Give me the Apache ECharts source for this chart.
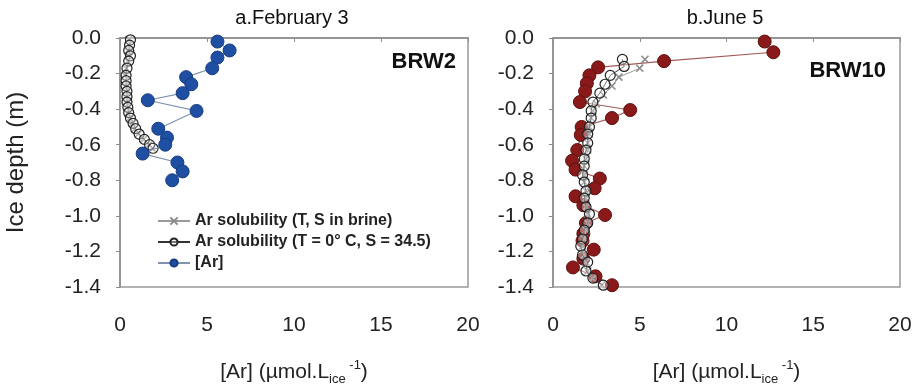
<!DOCTYPE html>
<html>
<head>
<meta charset="utf-8">
<script src="https://cdn.jsdelivr.net/npm/echarts@6/dist/echarts.min.js"></script>
<style>
html,body{margin:0;padding:0;background:#fff;}
#c{width:915px;height:392px;}
</style>
</head>
<body>
<div id="c"></div>
<script>
// ---------- data ----------
var xTicks = [0, 5, 10, 15, 20];
var yTicks = [0.0, -0.2, -0.4, -0.6, -0.8, -1.0, -1.2, -1.4];

// Panel a (BRW2, February 3)
var aArX = [5.6, 6.3, 5.6, 5.3, 3.8, 4.1, 3.6, 1.6, 4.4, 2.2, 2.7, 2.6, 1.3, 3.3, 3.6, 3.0];
var aArY = [-0.02, -0.07, -0.11, -0.17, -0.22, -0.26, -0.31, -0.35, -0.41, -0.51, -0.56, -0.60, -0.65, -0.70, -0.75, -0.80];
var aSol0X = [0.6, 0.55, 0.5, 0.6, 0.5, 0.4, 0.35, 0.35, 0.35, 0.4, 0.4, 0.4, 0.45, 0.5, 0.6, 0.75, 0.9, 1.1, 1.4, 1.7, 1.9];
var aSol0Y = [-0.01, -0.04, -0.07, -0.10, -0.13, -0.17, -0.21, -0.24, -0.27, -0.30, -0.33, -0.36, -0.39, -0.42, -0.45, -0.48, -0.51, -0.54, -0.57, -0.60, -0.62];
var aSolBX = [0.5, 0.5, 0.45, 0.5, 0.45, 0.35, 0.3, 0.3, 0.3, 0.35, 0.35, 0.35, 0.4, 0.45, 0.55, 0.7, 0.85, 1.05, 1.35, 1.65, 1.85];
var aSolBY = [-0.01, -0.04, -0.07, -0.10, -0.13, -0.17, -0.21, -0.24, -0.27, -0.30, -0.33, -0.36, -0.39, -0.42, -0.45, -0.48, -0.51, -0.54, -0.57, -0.60, -0.62];

// Panel b (BRW10, June 5)
var bArX = [12.2, 12.7, 6.4, 2.6, 2.1, 1.95, 1.85, 1.55, 4.45, 3.4, 1.65, 1.6, 1.4, 1.1, 1.3, 2.7, 2.4, 1.3, 1.75, 3.0, 1.9, 1.75, 1.7, 2.35, 1.75, 1.15, 2.45, 3.4];
var bArY = [-0.02, -0.08, -0.13, -0.165, -0.21, -0.255, -0.30, -0.36, -0.405, -0.45, -0.50, -0.545, -0.63, -0.69, -0.74, -0.79, -0.845, -0.89, -0.94, -0.995, -1.04, -1.10, -1.14, -1.19, -1.24, -1.29, -1.34, -1.39];
var bSol0X = [4.0, 4.1, 3.3, 3.0, 2.7, 2.3, 2.2, 2.2, 2.1, 2.0, 2.0, 1.9, 1.8, 1.8, 1.7, 1.8, 1.9, 1.8, 1.9, 2.1, 2.0, 1.8, 1.7, 1.6, 1.7, 2.0, 1.9, 2.3, 2.9];
var bSol0Y = [-0.12, -0.16, -0.21, -0.26, -0.31, -0.36, -0.41, -0.45, -0.50, -0.54, -0.59, -0.63, -0.68, -0.72, -0.77, -0.81, -0.86, -0.90, -0.95, -0.99, -1.04, -1.08, -1.13, -1.17, -1.22, -1.26, -1.31, -1.35, -1.39];
var bSolBX = [5.3, 5.0, 3.8, 3.4, 2.9, 2.5, 2.3, 2.2, 2.1, 2.1, 2.0, 2.0, 1.9, 1.8, 1.8, 1.8, 1.9, 1.9, 1.9, 2.0, 2.0, 1.9, 1.8, 1.7, 1.8, 1.9, 2.0, 2.3, 2.8];
var bSolBY = [-0.12, -0.17, -0.22, -0.27, -0.32, -0.37, -0.41, -0.45, -0.50, -0.54, -0.59, -0.63, -0.68, -0.72, -0.77, -0.81, -0.86, -0.90, -0.95, -0.99, -1.04, -1.08, -1.13, -1.17, -1.22, -1.26, -1.31, -1.35, -1.39];

var seriesNames = ['Ar solubility (T, S in brine)', 'Ar solubility (T = 0\u00b0 C, S = 34.5)', '[Ar]'];
var panelTitles = ['a.February 3', 'b.June 5'];
var panelTags = ['BRW2', 'BRW10'];
var yAxisName = 'Ice depth (m)';

// ---------- build ----------
function pairs(xs, ys) { return xs.map(function (x, i) { return [x, ys[i]]; }); }
var FONT = '"Liberation Sans", Arial, sans-serif';
var crossPath = 'path://M0,0L10,10M10,0L0,10';

function xAxisCfg(gi) {
  return {
    type: 'value', gridIndex: gi, min: xTicks[0], max: xTicks[xTicks.length - 1], interval: xTicks[1] - xTicks[0],
    splitLine: { show: false },
    axisLine: { lineStyle: { color: '#8c8c8c', width: 1.5 } },
    axisTick: { inside: false, length: 4, lineStyle: { color: '#8c8c8c' } },
    axisLabel: { fontFamily: FONT, fontSize: 21, color: '#222', margin: 28 },
    name: '[Ar] (\u00b5mol.L{sub|ice}{sup| -1})',
    nameLocation: 'middle', nameGap: 72,
    nameTextStyle: {
      fontFamily: FONT, fontSize: 21, color: '#222',
      rich: {
        sub: { fontFamily: FONT, fontSize: 13, color: '#222', padding: [14, 0, 0, 0] },
        sup: { fontFamily: FONT, fontSize: 13, color: '#222', padding: [0, 0, 14, 0] }
      }
    }
  };
}
function yAxisCfg(gi, withName) {
  var c = {
    type: 'value', gridIndex: gi, min: yTicks[yTicks.length - 1], max: yTicks[0], interval: 0.2,
    splitLine: { show: false },
    axisLine: { lineStyle: { color: '#8c8c8c', width: 1.5 } },
    axisTick: { inside: false, length: 4, lineStyle: { color: '#8c8c8c' } },
    axisLabel: { fontFamily: FONT, fontSize: 21, color: '#222', margin: 19,
      formatter: function (v) { return v.toFixed(1); } }
  };
  if (withName) {
    c.name = yAxisName; c.nameLocation = 'middle'; c.nameGap = 92;
    c.nameTextStyle = { fontFamily: FONT, fontSize: 24, color: '#222' };
  }
  return c;
}
function crossSeries(name, gi, data) {
  return {
    name: name, type: 'line', xAxisIndex: gi, yAxisIndex: gi, data: data,
    symbol: crossPath, symbolSize: 7, z: 3,
    lineStyle: { color: '#9a9a9a', width: 1 },
    itemStyle: { color: '#8a8a8a', borderColor: '#8a8a8a', borderWidth: 1.5 }
  };
}
function circleSeries(name, gi, data) {
  return {
    name: name, type: 'line', xAxisIndex: gi, yAxisIndex: gi, data: data,
    symbol: 'circle', symbolSize: 10, z: 4,
    lineStyle: { color: '#333', width: 1 },
    itemStyle: { color: 'rgba(255,255,255,0.35)', borderColor: '#222', borderWidth: 1.2 }
  };
}
function arSeries(name, gi, data, fill, border, line, z) {
  return {
    name: name, type: 'line', xAxisIndex: gi, yAxisIndex: gi, data: data,
    symbol: 'circle', symbolSize: 13, z: z,
    lineStyle: { color: line, width: 1.2 },
    itemStyle: { color: fill, borderColor: border, borderWidth: 1 }
  };
}

var option = {
  animation: false,
  backgroundColor: '#fff',
  grid: [
    { left: 120, top: 38, width: 348, height: 249, show: true, borderColor: '#999', borderWidth: 1.5, backgroundColor: 'transparent' },
    { left: 553, top: 38, width: 347, height: 249, show: true, borderColor: '#999', borderWidth: 1.5, backgroundColor: 'transparent' }
  ],
  xAxis: [xAxisCfg(0), xAxisCfg(1)],
  yAxis: [yAxisCfg(0, true), yAxisCfg(1, false)],
  legend: {
    data: seriesNames, orient: 'vertical', left: 152, top: 208, itemGap: 5,
    itemWidth: 32, itemHeight: 9,
    textStyle: { fontFamily: FONT, fontSize: 16, fontWeight: 'bold', color: '#222' }
  },
  graphic: [
    { type: 'text', x: 292, y: 18, style: { text: panelTitles[0], font: '20px ' + FONT, fill: '#111', textAlign: 'center', textVerticalAlign: 'middle' } },
    { type: 'text', x: 725, y: 18, style: { text: panelTitles[1], font: '20px ' + FONT, fill: '#111', textAlign: 'center', textVerticalAlign: 'middle' } },
    { type: 'text', x: 456, y: 62, style: { text: panelTags[0], font: 'bold 22px ' + FONT, fill: '#111', textAlign: 'right', textVerticalAlign: 'middle' } },
    { type: 'text', x: 886, y: 71, style: { text: panelTags[1], font: 'bold 22px ' + FONT, fill: '#111', textAlign: 'right', textVerticalAlign: 'middle' } }
  ],
  series: [
    crossSeries(seriesNames[0], 0, pairs(aSolBX, aSolBY)),
    circleSeries(seriesNames[1], 0, pairs(aSol0X, aSol0Y)),
    arSeries(seriesNames[2], 0, pairs(aArX, aArY), '#1f4fa3', '#183d80', '#7f93ad', 5),
    arSeries('b_ar', 1, pairs(bArX, bArY), '#8a1a1a', '#5e1010', '#a35a5a', 2),
    crossSeries('b_solB', 1, pairs(bSolBX, bSolBY)),
    circleSeries('b_sol0', 1, pairs(bSol0X, bSol0Y))
  ]
};
var chart = echarts.init(document.getElementById('c'), null, { renderer: 'canvas' });
chart.setOption(option);
</script>
</body>
</html>
